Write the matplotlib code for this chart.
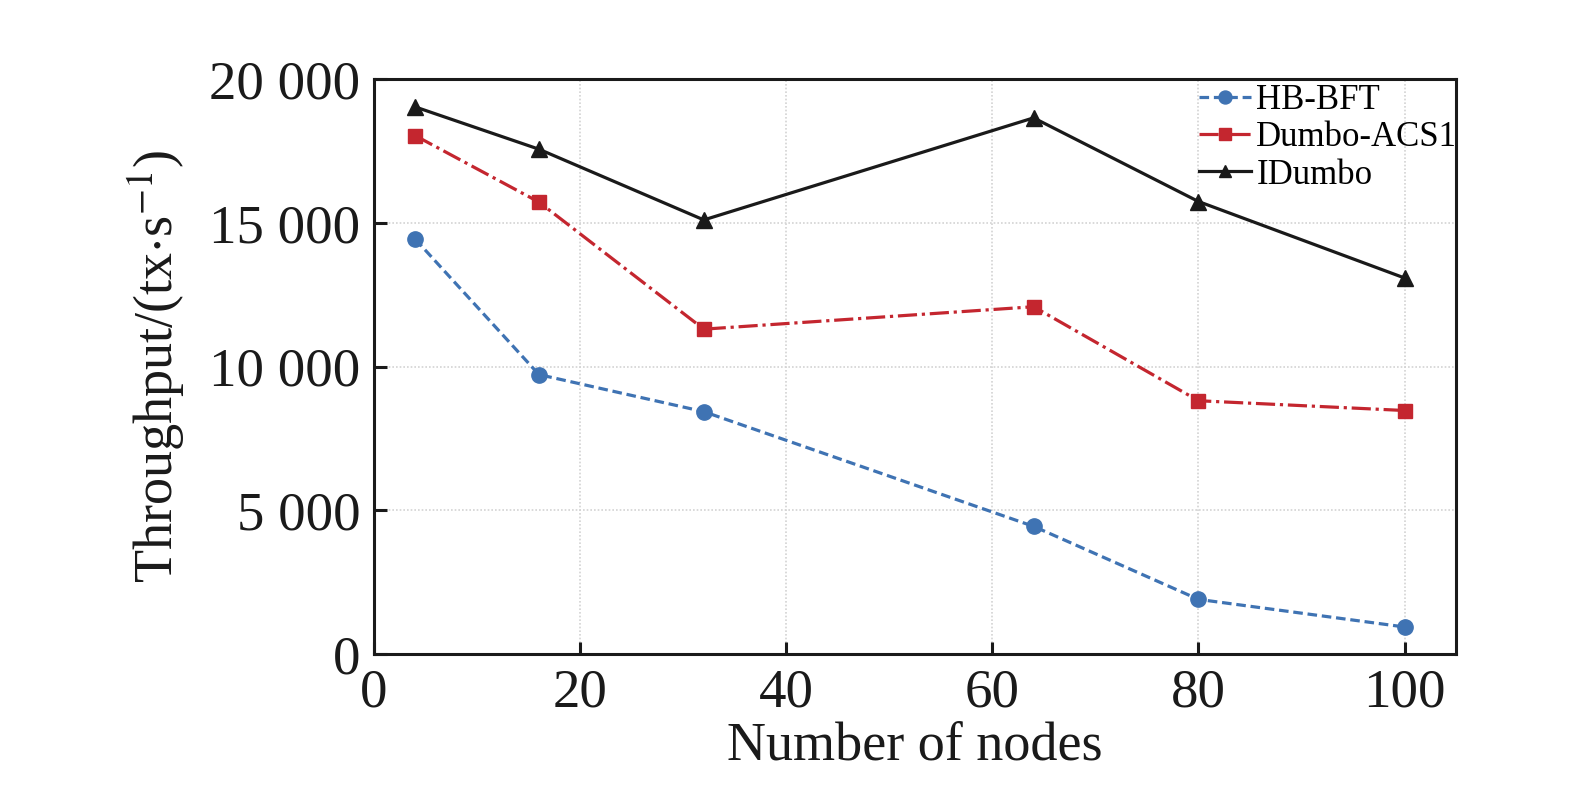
import matplotlib
matplotlib.use("Agg")
import matplotlib.pyplot as plt

plt.rcParams['font.family'] = ['Liberation Serif', 'DejaVu Serif']
plt.rcParams['mathtext.fontset'] = 'stix'

nodes = [4, 16, 32, 64, 80, 100]
hb_bft = [14430, 9720, 8430, 4440, 1900, 940]
dumbo_acs1 = [18030, 15720, 11300, 12080, 8810, 8470]
idumbo = [19030, 17560, 15100, 18650, 15740, 13080]

x_ticks = [0, 20, 40, 60, 80, 100]
y_ticks = [0, 5000, 10000, 15000, 20000]
y_tick_labels = ['0', '5 000', '10 000', '15 000', '20 000']

fig = plt.figure(figsize=(15.75, 7.93), dpi=100)
ax = fig.add_axes([0.2375, 0.1753, 0.687, 0.725])

ax.plot(nodes, hb_bft, linestyle=(0, (3, 1.5)), color='#3f73b3', linewidth=2.3,
        marker='o', markersize=11, markeredgecolor='#3f73b3', label='HB-BFT')
ax.plot(nodes, dumbo_acs1, linestyle=(0, (6, 1.5, 1, 1.5)), color='#c4262f', linewidth=2.3,
        marker='s', markersize=10.5, markeredgecolor='#c4262f', label='Dumbo-ACS1')
ax.plot(nodes, idumbo, linestyle='-', color='#1a1a1a', linewidth=2.3,
        marker='^', markersize=11, markeredgecolor='#1a1a1a', label='IDumbo')

ax.set_xlim(0, 105)
ax.set_ylim(0, 20000)
ax.set_xticks(x_ticks)
ax.set_xticklabels([str(v) for v in x_ticks])
ax.set_yticks(y_ticks)
ax.set_yticklabels(y_tick_labels)

ax.grid(True, color='#d3d3d3', linestyle=(0, (1, 1.2)), linewidth=1.2)
ax.set_axisbelow(True)

for s in ['top', 'right', 'bottom', 'left']:
    ax.spines[s].set_linewidth(2.2)
    ax.spines[s].set_color('#1a1a1a')

ax.tick_params(axis='both', direction='in', length=9, width=2.2, labelsize=39.5,
               colors='#1a1a1a', pad=10)

ax.set_xlabel('Number of nodes', fontsize=39, labelpad=2, color='#1a1a1a')
ax.set_ylabel(r'Throughput/(tx$\cdot$s$^{-1}$)', fontsize=39, labelpad=16, color='#1a1a1a')

leg = ax.legend(loc='upper right', bbox_to_anchor=(1.006, 1.0), frameon=False, fontsize=25,
                handlelength=1.5, handletextpad=0.15, labelspacing=0.12,
                borderpad=0.1, borderaxespad=0.05, markerscale=0.85)

fig.savefig('out.png', dpi=100)
